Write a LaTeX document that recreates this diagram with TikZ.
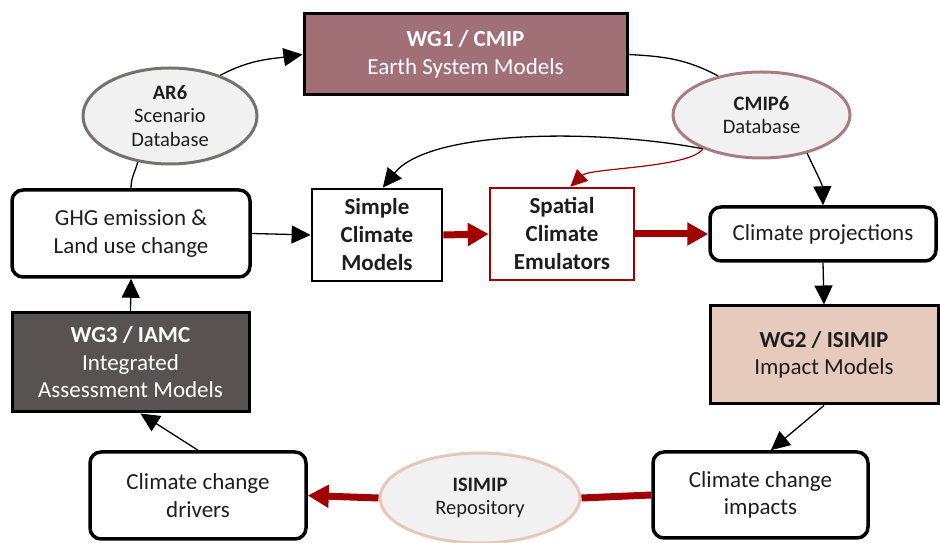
\documentclass[tikz,border=0pt]{standalone}
\usepackage{fontspec}
\setmainfont{Carlito}
\usetikzlibrary{arrows.meta,shapes.geometric}
\definecolor{wgone}{RGB}{160,112,118}
\definecolor{wgthree}{RGB}{89,82,82}
\definecolor{wgtwo}{RGB}{230,202,187}
\definecolor{ellfill}{RGB}{241,241,241}
\definecolor{argray}{RGB}{118,113,113}
\definecolor{cmipborder}{RGB}{168,124,130}
\definecolor{isiborder}{RGB}{228,200,186}
\definecolor{darkred}{RGB}{160,0,0}
\definecolor{txt}{RGB}{30,30,30}
\tikzset{
  bigtext/.style={font=\fontsize{23}{27.5}\selectfont, align=center, text=txt},
  smalltext/.style={font=\fontsize{20.5}{23.5}\selectfont, align=center, text=txt},
  roundbox/.style={bigtext, draw=black, line width=3.5pt, rounded corners=11pt, fill=white, inner sep=0pt},
  plainbox/.style={bigtext, draw=black, line width=3pt, inner sep=0pt},
  dbell/.style={smalltext, ellipse, fill=ellfill, line width=3pt, inner sep=0pt},
  conn/.style={line width=1.3pt, draw=black},
  arr/.style={conn, -{Triangle[length=19pt,width=18pt]}},
  redthick/.style={line width=7pt, draw=darkred},
  redarr/.style={redthick, -{Triangle[length=21pt,width=22pt]}},
}
\begin{document}
\begin{tikzpicture}[x=1pt,y=1pt]
\useasboundingbox (0,0) rectangle (940,543);
% nodes
\node[plainbox, fill=wgone, text=white, minimum width=323pt, minimum height=81pt] (wg1) at (465.5,488.5) {\textbf{WG1 / CMIP}\\Earth System Models};
\node[dbell, draw=argray, minimum width=174pt, minimum height=96pt] (ar6) at (170,427) {\textbf{AR6}\\Scenario\\Database};
\node[dbell, draw=cmipborder, minimum width=177pt, minimum height=86pt] (cmip6) at (761.5,428) {\textbf{CMIP6}\\Database};
\node[roundbox, minimum width=238pt, minimum height=87pt] (ghg) at (131,309.5) {GHG emission \&\\Land use change};
\node[plainbox, line width=2.8pt, font=\bfseries\fontsize{23}{28}\selectfont, minimum width=130pt, minimum height=92pt] (simple) at (377,308) {Simple\\Climate\\Models};
\node[plainbox, draw=darkred, line width=2.5pt, font=\bfseries\fontsize{23}{28}\selectfont, minimum width=144pt, minimum height=92pt] (spatial) at (562,309) {Spatial\\Climate\\Emulators};
\node[roundbox, minimum width=226pt, minimum height=54pt] (proj) at (823,309) {Climate projections};
\node[plainbox, fill=wgtwo, minimum width=228pt, minimum height=98pt] (wg2) at (824,188) {\textbf{WG2 / ISIMIP}\\Impact Models};
\node[plainbox, fill=wgthree, text=white, minimum width=237pt, minimum height=99pt] (wg3) at (130.5,180.5) {\textbf{WG3 / IAMC}\\Integrated\\Assessment Models};
\node[roundbox, minimum width=216pt, minimum height=87pt] (drivers) at (198,47.5) {Climate change\\drivers};
\node[dbell, draw=isiborder, minimum width=200pt, minimum height=90pt] (isimip) at (480,45) {\textbf{ISIMIP}\\Repository};
\node[roundbox, minimum width=215pt, minimum height=86pt] (impacts) at (760.5,48) {Climate change\\impacts};
% connectors
\draw[arr] (ar6.39) to[out=28,in=188] (wg1.west);
\draw[conn] (wg1.east) to[out=-3,in=152] (cmip6.138);
\draw[conn] (ar6.235) to[out=-105,in=90] (ghg.north);
\draw[arr] (cmip6.210) .. controls (600,414) and (430,414) .. (simple.83);
\draw[darkred, line width=1.2pt, -{Triangle[length=17pt,width=16pt]}] (cmip6.210) .. controls (690,375) and (590,375) .. (spatial.80);
\draw[arr] (cmip6.-40) to[out=-65,in=92] (proj.north);
\draw[arr] (ghg.east) -- (simple.west);
\draw[redarr] (simple.east) -- (spatial.west);
\draw[redarr] (spatial.east) -- (proj.west);
\draw[arr] (proj.south) -- (wg2.north);
\draw[arr] (wg2.south) -- (impacts.77);
\draw[redthick] (impacts.west) -- (isimip.east);
\draw[redarr] (isimip.west) -- (drivers.east);
\draw[arr] (drivers.north) -- (wg3.-79);
\draw[arr] (wg3.north) -- (ghg.south);
\end{tikzpicture}
\end{document}
